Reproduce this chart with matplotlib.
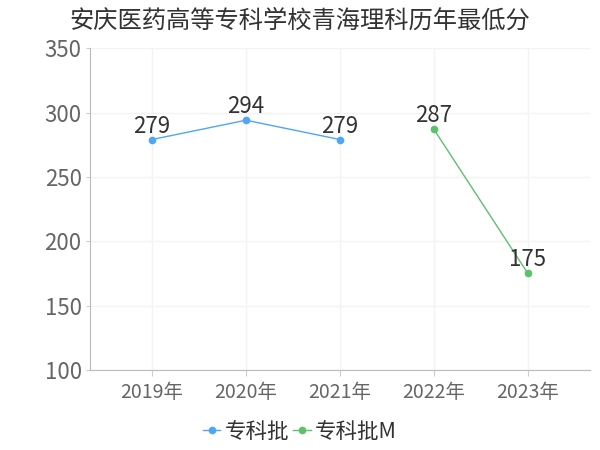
import matplotlib.pyplot as plt
import numpy as np

plt.rcParams['font.family'] = ['Noto Sans CJK SC', 'DejaVu Sans']

# 데이터
years = ['2019年', '2020年', '2021年', '2022年', '2023年']
batch_a = [279, 294, 279, np.nan, np.nan]
batch_m = [np.nan, np.nan, np.nan, 287, 175]
title = '安庆医药高等专科学校青海理科历年最低分'

fig = plt.figure(figsize=(6, 4.5), dpi=100)
ax = fig.add_axes([0.15, 0.178, 0.833, 0.715])

x = np.arange(len(years))
series = [('专科批', batch_a, '#4ea6f5'), ('专科批M', batch_m, '#5cc16b')]
for name, vals, color in series:
    ax.plot(x, vals, color=color, linewidth=1, marker='o', markersize=4.5, label=name)
    for xi, v in zip(x, vals):
        if not np.isnan(v):
            ax.text(xi, v + 1.5, f'{v:.0f}', ha='center', va='bottom', fontsize=16, color='#333333')

ax.set_xlim(-0.66, 4.66)
ax.set_ylim(100, 350)
ax.set_xticks(x)
ax.set_xticklabels(years, fontsize=14, color='#666666')
ax.set_yticks(range(100, 351, 50))
ax.tick_params(axis='y', labelsize=16, labelcolor='#666666', length=3, color='#cccccc', pad=3)
ax.tick_params(axis='x', length=4, color='#cccccc', pad=5)
ax.grid(True, color='#f3f3f3', linewidth=1)
for s in ['top', 'right']:
    ax.spines[s].set_visible(False)
for s in ['left', 'bottom']:
    ax.spines[s].set_color('#bbbbbb')

fig.text(0.5, 0.955, title, ha='center', va='center', fontsize=17.5, color='#333333')
fig.legend(loc='center', bbox_to_anchor=(0.5, 0.04), ncol=2, frameon=False,
           fontsize=15.5, handlelength=0.8, handletextpad=0.2, columnspacing=0.2,
           labelcolor='#333333')

fig.savefig('out.png', dpi=100)
